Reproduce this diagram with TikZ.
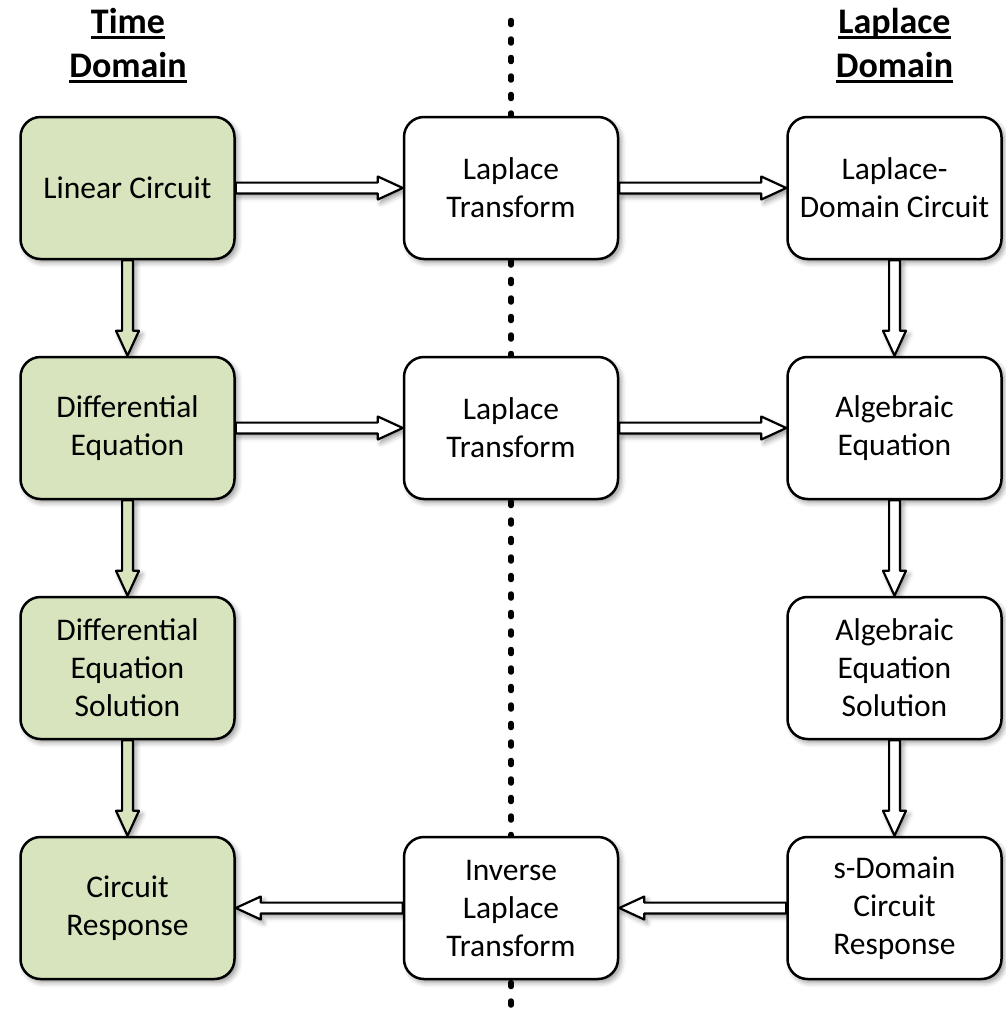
\documentclass[tikz,border=0pt]{standalone}
\usepackage{fontspec}
\setmainfont{Carlito}
\usetikzlibrary{calc,shadows.blur}
\pgfdeclarelayer{background}
\pgfsetlayers{background,main}
\definecolor{boxgreen}{HTML}{D7E4BD}
% underlined header word
\newcommand{\ulword}[1]{\setbox0=\hbox{#1}\rlap{\rule[-6pt]{\wd0}{3pt}}\box0}
% hollow block arrow from one anchor to another
\newcommand{\flowarrow}[3]{%
  \path[#1] let \p1=(#2), \p2=(#3), \p3=($(\p2)!25pt!(\p1)$) in
    ($(\p1)!5.4pt!90:(\p2)$) -- ($(\p3)!5.4pt!-90:(\p1)$) -- ($(\p3)!11.5pt!-90:(\p1)$)
    -- (\p2) -- ($(\p3)!11.5pt!90:(\p1)$) -- ($(\p3)!5.4pt!90:(\p1)$)
    -- ($(\p1)!5.4pt!-90:(\p2)$) -- cycle;}
% every connector of the chart, with the styles for Laplace-side and time-side arrows
\newcommand{\connectors}[2]{%
  \flowarrow{#1}{lc.east}{lt1.west}
  \flowarrow{#1}{lt1.east}{ldc.west}
  \flowarrow{#1}{de.east}{lt2.west}
  \flowarrow{#1}{lt2.east}{ae.west}
  \flowarrow{#1}{sdr.west}{ilt.east}
  \flowarrow{#1}{ilt.west}{cr.east}
  \flowarrow{#1}{ldc.south}{ae.north}
  \flowarrow{#1}{ae.south}{aes.north}
  \flowarrow{#1}{aes.south}{sdr.north}
  \flowarrow{#2}{lc.south}{de.north}
  \flowarrow{#2}{de.south}{des.north}
  \flowarrow{#2}{des.south}{cr.north}}
\begin{document}
\begin{tikzpicture}[x=1pt,y=-1pt,
  softshadow/.style={blur shadow={shadow xshift=3pt, shadow yshift=-3.5pt, shadow blur radius=5pt, shadow opacity=40}},
  stage/.style={draw=black, line width=2.5pt, rounded corners=20pt,
    minimum width=214pt, minimum height=142pt, align=center, inner sep=0pt,
    font=\fontsize{31.5}{38}\selectfont, fill=white, softshadow},
  timestage/.style={stage, fill=boxgreen},
  header/.style={font=\fontsize{36}{44}\bfseries\selectfont, anchor=base, inner sep=0pt},
  flowshade/.style={softshadow},
  flow/.style={draw=black, line width=2.2pt, line join=round, fill=white},
  timeflow/.style={flow, fill=boxgreen},
  divider/.style={line width=5.5pt, line cap=round, dash pattern=on 4pt off 14.5pt}
]
\useasboundingbox (0,0) rectangle (1005,1017);

% domain divider
\coordinate (divtop) at (511,20.5);
\coordinate (divbot) at (511,1017);
\draw[divider] (divtop) -- (divbot);

% headers
\node[header] (th1) at (128,33) {\ulword{Time}};
\node[header] (th2) at (128,77) {\ulword{Domain}};
\node[header] (lh1) at (894.5,33) {\ulword{Laplace}};
\node[header] (lh2) at (894.5,77) {\ulword{Domain}};

% time-domain column
\node[timestage] (lc)  at (127.5,188) {Linear Circuit};
\node[timestage] (de)  at (127.5,428) {Differential\\Equation};
\node[timestage] (des) at (127.5,668) {Differential\\Equation\\Solution};
\node[timestage] (cr)  at (127.5,908) {Circuit\\Response};

% transforms
\node[stage] (lt1) at (511,188) {Laplace\\Transform};
\node[stage] (lt2) at (511,428) {Laplace\\Transform};
\node[stage] (ilt) at (511,908) {Inverse\\Laplace\\Transform};

% Laplace-domain column
\node[stage] (ldc) at (894.5,188) {Laplace-\\Domain Circuit};
\node[stage] (ae)  at (894.5,428) {Algebraic\\Equation};
\node[stage] (aes) at (894.5,668) {Algebraic\\Equation\\Solution};
\node[stage] (sdr) at (894.5,908) {s-Domain\\Circuit\\Response};

% connector shadows stay behind the boxes
\begin{pgfonlayer}{background}
  \connectors{flowshade}{flowshade}
\end{pgfonlayer}

% connectors
\connectors{flow}{timeflow}
\end{tikzpicture}
\end{document}
